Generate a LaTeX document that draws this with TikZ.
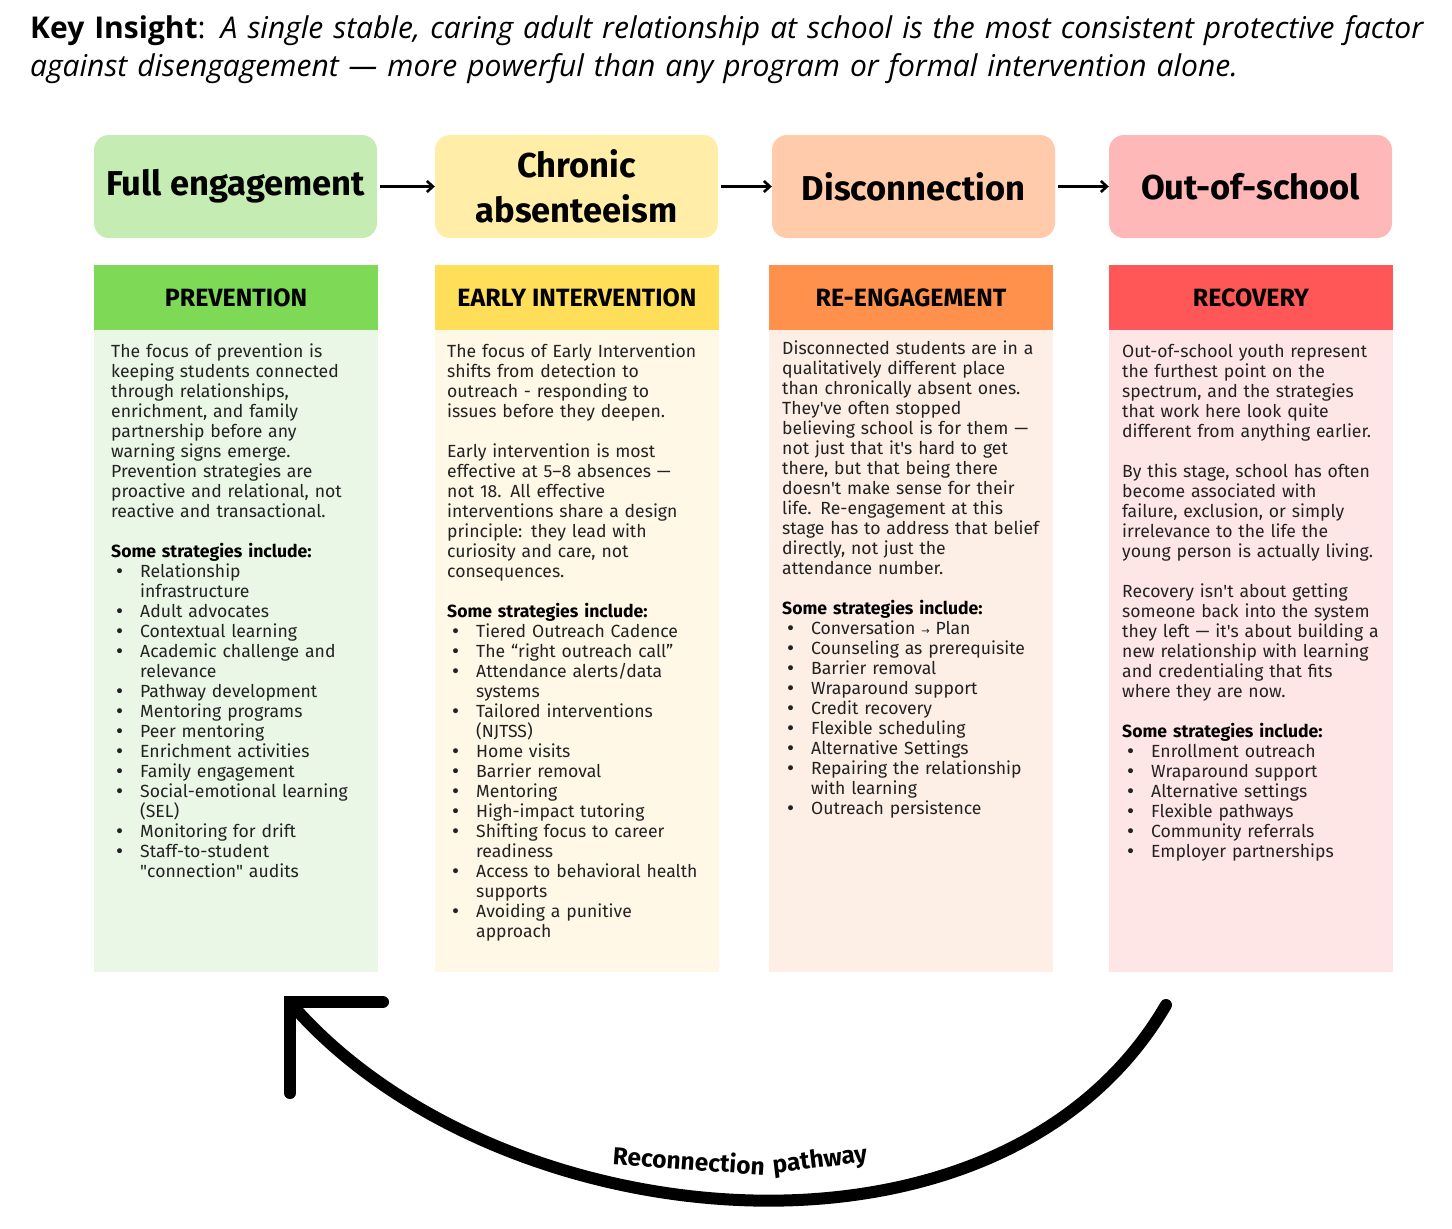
\documentclass[tikz,border=0pt]{standalone}
\usepackage{fontspec}
\setmainfont{Fira Sans}
\newfontfamily\keyfont{Open Sans}
\newfontfamily\arrfont{DejaVu Sans}
\usetikzlibrary{arrows.meta}

\definecolor{topgreen}{HTML}{C5ECB3}
\definecolor{topyellow}{HTML}{FFEDA8}
\definecolor{toppeach}{HTML}{FFCBAA}
\definecolor{toppink}{HTML}{FFB8B8}
\definecolor{hdrgreen}{HTML}{7ED957}
\definecolor{hdryellow}{HTML}{FFDE59}
\definecolor{hdrorange}{HTML}{FF914D}
\definecolor{hdrred}{HTML}{FF5757}
\definecolor{pangreen}{HTML}{EAF7E6}
\definecolor{panyellow}{HTML}{FFF8E7}
\definecolor{panpeach}{HTML}{FDEEE6}
\definecolor{panpink}{HTML}{FFE6E6}
\definecolor{bodyink}{HTML}{222222}

\newcommand{\bl}[1]{\makebox[29pt][l]{\hspace{3.5pt}{\arrfont\fontsize{17}{17}\selectfont •}}#1}
\newcommand{\ct}[1]{\hspace*{29pt}#1}
\newcommand{\sst}{\textbf{\color{black}Some strategies include:}}
\newcommand{\sq}{\textquotesingle}

\tikzset{
  topbox/.style={minimum width=283pt, minimum height=103pt, rounded corners=15pt,
    inner sep=0pt, align=center, font=\fontsize{34.5}{45}\selectfont\bfseries},
  hdrbox/.style={minimum width=284pt, minimum height=65pt, inner sep=0pt,
    font=\fontsize{25}{25}\selectfont\bfseries},
  panel/.style={minimum width=284pt, minimum height=642pt, inner sep=0pt, anchor=north},
  bodytext/.style={anchor=base west, inner sep=0pt, text width=300pt, align=left,
    font=\fontsize{17.6}{20}\selectfont, text=bodyink},
  flow/.style={line width=2.6pt, -{Straight Barb[length=6pt,width=11pt,line width=2.6pt]}, shorten <=3pt},
  recon/.style={line width=12pt, line cap=round, line join=round},
  reclabel/.style={inner sep=0pt, font=\fontsize{24.5}{24.5}\selectfont\bfseries},
}

\begin{document}
\begin{tikzpicture}[x=1pt,y=-1pt]
\useasboundingbox (0,0) rectangle (1452,1229);
\fill[white] (0,0) rectangle (1452,1229);

% key insight
\node[anchor=base west, inner sep=0pt, text width=1440pt, align=left,
  font=\keyfont\fontsize{30}{38}\selectfont] (key) at (30,38)
  {\textbf{Key Insight}: \textit{A single stable, caring adult relationship at school is the most consistent protective factor}\\
   \textit{against disengagement — more powerful than any program or formal intervention alone.}};

% top stage boxes
\node[topbox, fill=topgreen] (t1) at (235.5,186.5) {Full engagement};
\node[topbox, fill=topyellow] (t2) at (576.5,186.5) {Chronic\\absenteeism};
\node[topbox, fill=toppeach] (t3) at (913.5,186.5) {Disconnection};
\node[topbox, fill=toppink] (t4) at (1250.5,186.5) {Out-of-school};
\draw[flow] (t1) -- (t2);
\draw[flow] (t2) -- (t3);
\draw[flow] (t3) -- (t4);

% panels
\node[panel, fill=pangreen] (p1) at (236,330) {};
\node[panel, fill=panyellow] (p2) at (577,330) {};
\node[panel, fill=panpeach] (p3) at (911,330) {};
\node[panel, fill=panpink] (p4) at (1251,330) {};

% headers
\node[hdrbox, fill=hdrgreen] (h1) at (236,297.5) {PREVENTION};
\node[hdrbox, fill=hdryellow] (h2) at (577,297.5) {EARLY INTERVENTION};
\node[hdrbox, fill=hdrorange] (h3) at (911,297.5) {RE-ENGAGEMENT};
\node[hdrbox, fill=hdrred] (h4) at (1251,297.5) {RECOVERY};

% body texts
\node[bodytext] (b1) at (111,357) {%
The focus of prevention is\\
keeping students connected\\
through relationships,\\
enrichment, and family\\
partnership before any\\
warning signs emerge.\\
Prevention strategies are\\
proactive and relational, not\\
reactive and transactional.\\[20pt]
\sst\\
\bl{Relationship}\\
\ct{infrastructure}\\
\bl{Adult advocates}\\
\bl{Contextual learning}\\
\bl{Academic challenge and}\\
\ct{relevance}\\
\bl{Pathway development}\\
\bl{Mentoring programs}\\
\bl{Peer mentoring}\\
\bl{Enrichment activities}\\
\bl{Family engagement}\\
\bl{Social-emotional learning}\\
\ct{(SEL)}\\
\bl{Monitoring for drift}\\
\bl{Staff-to-student}\\
\ct{\textquotedbl connection\textquotedbl\ audits}};

\node[bodytext] (b2) at (447,357) {%
The focus of Early Intervention\\
shifts from detection to\\
outreach - responding to\\
issues before they deepen.\\[20pt]
Early intervention is most\\
effective at 5–8 absences —\\
not 18. All effective\\
interventions share a design\\
principle: they lead with\\
curiosity and care, not\\
consequences.\\[20pt]
\sst\\
\bl{Tiered Outreach Cadence}\\
\bl{The “right outreach call”}\\
\bl{Attendance alerts/data}\\
\ct{systems}\\
\bl{Tailored interventions}\\
\ct{(NJTSS)}\\
\bl{Home visits}\\
\bl{Barrier removal}\\
\bl{Mentoring}\\
\bl{High-impact tutoring}\\
\bl{Shifting focus to career}\\
\ct{readiness}\\
\bl{Access to behavioral health}\\
\ct{supports}\\
\bl{Avoiding a punitive}\\
\ct{approach}};

\node[bodytext] (b3) at (782,354) {%
Disconnected students are in a\\
qualitatively different place\\
than chronically absent ones.\\
They\sq ve often stopped\\
believing school is for them —\\
not just that it\sq s hard to get\\
there, but that being there\\
doesn\sq t make sense for their\\
life. Re-engagement at this\\
stage has to address that belief\\
directly, not just the\\
attendance number.\\[20pt]
\sst\\
\bl{Conversation {\arrfont\fontsize{10}{10}\selectfont →} Plan}\\
\bl{Counseling as prerequisite}\\
\bl{Barrier removal}\\
\bl{Wraparound support}\\
\bl{Credit recovery}\\
\bl{Flexible scheduling}\\
\bl{Alternative Settings}\\
\bl{Repairing the relationship}\\
\ct{with learning}\\
\bl{Outreach persistence}};

\node[bodytext] (b4) at (1122,357) {%
Out-of-school youth represent\\
the furthest point on the\\
spectrum, and the strategies\\
that work here look quite\\
different from anything earlier.\\[20pt]
By this stage, school has often\\
become associated with\\
failure, exclusion, or simply\\
irrelevance to the life the\\
young person is actually living.\\[20pt]
Recovery isn\sq t about getting\\
someone back into the system\\
they left — it\sq s about building a\\
new relationship with learning\\
and credentialing that fits\\
where they are now.\\[20pt]
\sst\\
\bl{Enrollment outreach}\\
\bl{Wraparound support}\\
\bl{Alternative settings}\\
\bl{Flexible pathways}\\
\bl{Community referrals}\\
\bl{Employer partnerships}};

% reconnection pathway
\coordinate (rs) at (1166,1005);
\coordinate (re) at (294,1007);
\draw[recon] (rs) .. controls (1000,1290) and (500,1240) .. (re);
\draw[recon, line cap=round, line join=miter] (290,1093) -- (290,1002) -- (383,1002);
\node[reclabel, rotate=-4] (rl1) at (689,1160) {Reconnection};
\node[reclabel, rotate=7] (rl2) at (820,1161) {pathway};
\end{tikzpicture}
\end{document}
